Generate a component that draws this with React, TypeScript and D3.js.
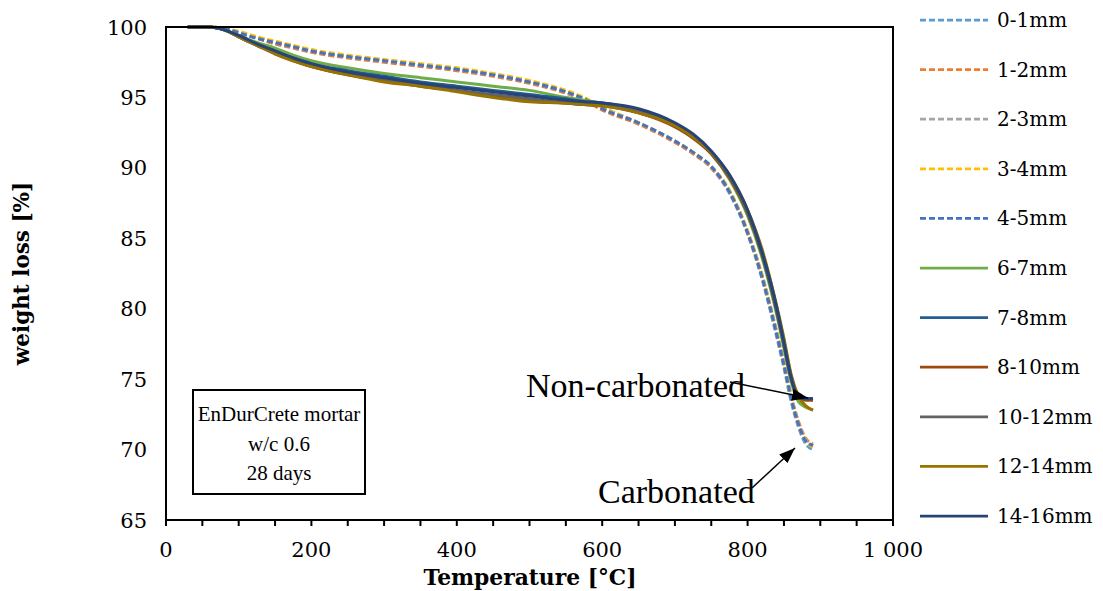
import React from "react";
import * as d3 from "d3";

// Thermogravimetric curves of EnDurCrete mortar (w/c 0.6, 28 days), sampled per depth slice.
const temperature = [30, 60, 80, 100, 125, 150, 175, 200, 250, 300, 350, 400, 450, 500, 550, 575, 600, 650, 700, 725, 750, 775, 800, 820, 840, 850, 860, 870, 880, 890];

// Carbonated layers (dashed)
const d0_1 = [100, 100, 99.9, 99.6, 99.2, 98.9, 98.6, 98.3, 97.9, 97.6, 97.3, 97.0, 96.6, 96.1, 95.4, 94.9, 94.2, 93.2, 91.9, 91.1, 90.0, 88.2, 85.3, 82.1, 78.0, 75.8, 73.4, 71.6, 70.4, 70.0];
const d1_2 = [100, 100, 99.9, 99.6, 99.2, 98.8, 98.5, 98.2, 97.8, 97.5, 97.2, 96.9, 96.5, 96.0, 95.3, 94.8, 94.1, 93.1, 91.8, 91.0, 90.0, 88.3, 85.4, 82.3, 78.3, 76.1, 73.8, 72.0, 70.8, 70.4];
const d2_3 = [100, 100, 99.9, 99.6, 99.3, 98.9, 98.6, 98.3, 97.9, 97.6, 97.3, 97.0, 96.6, 96.1, 95.4, 94.9, 94.3, 93.2, 91.9, 91.1, 90.1, 88.4, 85.5, 82.4, 78.4, 76.2, 73.8, 71.9, 70.7, 70.3];
const d3_4 = [100, 100, 99.9, 99.7, 99.3, 99.0, 98.7, 98.4, 98.0, 97.7, 97.4, 97.1, 96.7, 96.2, 95.5, 95.0, 94.3, 93.2, 91.9, 91.1, 90.1, 88.4, 85.5, 82.3, 78.3, 76.0, 73.6, 71.8, 70.6, 70.2];
const d4_5 = [100, 100, 99.9, 99.6, 99.2, 98.9, 98.6, 98.3, 97.9, 97.6, 97.3, 97.0, 96.6, 96.1, 95.4, 94.9, 94.2, 93.2, 91.9, 91.1, 90.1, 88.3, 85.4, 82.2, 78.2, 76.0, 73.6, 71.8, 70.6, 70.3];

// Non-carbonated layers (solid)
const d6_7 = [100, 100, 99.8, 99.4, 98.9, 98.5, 98.0, 97.6, 97.1, 96.7, 96.4, 96.1, 95.8, 95.5, 95.0, 94.8, 94.6, 94.0, 93.0, 92.2, 91.0, 89.2, 86.6, 83.6, 79.6, 77.2, 74.8, 73.4, 73.0, 72.8];
const d7_8 = [100, 100, 99.8, 99.4, 98.8, 98.3, 97.8, 97.4, 96.9, 96.5, 96.1, 95.8, 95.5, 95.2, 94.9, 94.7, 94.6, 94.1, 93.1, 92.3, 91.1, 89.4, 86.8, 83.8, 79.8, 77.4, 75.0, 73.7, 73.6, 73.6];
const d8_10 = [100, 100, 99.8, 99.3, 98.7, 98.1, 97.6, 97.2, 96.6, 96.2, 95.8, 95.5, 95.1, 94.8, 94.6, 94.5, 94.4, 93.9, 92.9, 92.1, 91.0, 89.3, 86.8, 83.9, 80.0, 77.6, 75.1, 73.7, 73.5, 73.5];
const d10_12 = [100, 100, 99.8, 99.3, 98.7, 98.2, 97.7, 97.3, 96.7, 96.3, 95.9, 95.5, 95.2, 94.9, 94.6, 94.5, 94.5, 94.0, 93.0, 92.2, 91.1, 89.4, 86.9, 84.0, 80.1, 77.7, 75.2, 73.8, 73.6, 73.6];
const d12_14 = [100, 100, 99.8, 99.3, 98.7, 98.1, 97.6, 97.2, 96.6, 96.1, 95.8, 95.4, 95.0, 94.7, 94.6, 94.5, 94.4, 93.9, 93.0, 92.2, 91.1, 89.5, 87.0, 84.2, 80.2, 77.9, 75.3, 73.8, 73.1, 72.8];
const d14_16 = [100, 100, 99.8, 99.4, 98.8, 98.3, 97.8, 97.4, 96.8, 96.4, 96.0, 95.7, 95.4, 95.1, 94.8, 94.7, 94.6, 94.2, 93.2, 92.4, 91.2, 89.5, 87.0, 84.0, 80.1, 77.6, 75.1, 73.7, 73.6, 73.6];

const seriesNames = ["0-1mm", "1-2mm", "2-3mm", "3-4mm", "4-5mm", "6-7mm", "7-8mm", "8-10mm", "10-12mm", "12-14mm", "14-16mm"];
const seriesValues = [d0_1, d1_2, d2_3, d3_4, d4_5, d6_7, d7_8, d8_10, d10_12, d12_14, d14_16];
const seriesColors = ["#5B9BD5", "#ED7D31", "#A5A5A5", "#FFC000", "#4472C4", "#70AD47", "#255E91", "#9E480E", "#636363", "#997300", "#264478"];
const seriesDashed = [true, true, true, true, true, false, false, false, false, false, false];

const xTicks = [0, 200, 400, 600, 800, 1000];
const xTickLabels = ["0", "200", "400", "600", "800", "1 000"];
const yTicks = [65, 70, 75, 80, 85, 90, 95, 100];

const noteLines = ["EnDurCrete mortar", "w/c 0.6", "28 days"];

const FONT = "'DejaVu Serif', serif";
const NARROW_FONT = "'Liberation Serif', serif";

export default function App() {
  const W = 1103;
  const H = 591;
  const plot = { left: 166, right: 893, top: 27, bottom: 520 };

  const x = d3.scaleLinear().domain([0, 1000]).range([plot.left, plot.right]);
  const y = d3.scaleLinear().domain([65, 100]).range([plot.bottom, plot.top]);

  const line = d3
    .line<number>()
    .x((_, i) => x(temperature[i]))
    .y((v) => y(v))
    .curve(d3.curveMonotoneX);

  const minorTicks = d3.range(0, 1001, 50);

  const legendX1 = 920;
  const legendX2 = 988;
  const legendTop = 20;
  const legendStep = 49.6;

  return (
    <svg
      width={W}
      height={H}
      style={{ position: "absolute", left: 0, top: 0, background: "#fff" }}
      fontFamily={FONT}
    >
      <defs>
        <marker
          id="arrowHead"
          viewBox="0 0 16 12"
          refX="16"
          refY="6"
          markerWidth="16"
          markerHeight="12"
          markerUnits="userSpaceOnUse"
          orient="auto"
        >
          <path d="M0,0 L16,6 L0,12 Z" fill="#000" />
        </marker>
      </defs>

      {/* series */}
      <g fill="none">
        {seriesValues.map((vals, i) => (
          <path
            key={seriesNames[i]}
            d={line(vals) ?? ""}
            stroke={seriesColors[i]}
            strokeWidth={3}
            strokeDasharray={seriesDashed[i] ? "6,3" : undefined}
            strokeLinejoin="round"
          />
        ))}
      </g>

      {/* plot frame */}
      <rect
        x={plot.left}
        y={plot.top}
        width={plot.right - plot.left}
        height={plot.bottom - plot.top}
        fill="none"
        stroke="#000"
        strokeWidth={2}
      />

      {/* x ticks */}
      <g stroke="#000" strokeWidth={2}>
        {minorTicks.map((t) => (
          <line key={t} x1={x(t)} x2={x(t)} y1={plot.bottom} y2={plot.bottom + 6} />
        ))}
      </g>
      <g fontSize={21} textAnchor="middle" fill="#000">
        {xTicks.map((t, i) => (
          <text key={t} x={x(t)} y={557}>
            {xTickLabels[i]}
          </text>
        ))}
      </g>

      {/* y tick labels */}
      <g fontSize={21} textAnchor="end" fill="#000">
        {yTicks.map((t) => (
          <text key={t} x={147} y={y(t) + 7.5}>
            {t}
          </text>
        ))}
      </g>

      {/* axis titles */}
      <text x={530} y={585} textAnchor="middle" fontSize={21.8} fontWeight="bold">
        Temperature [°C]
      </text>
      <text
        transform={`translate(29, ${(plot.top + plot.bottom) / 2}) rotate(-90)`}
        textAnchor="middle"
        fontSize={21.5}
        fontWeight="bold"
      >
        weight loss [%]
      </text>

      {/* note box */}
      <rect x={193} y={390} width={172} height={104} fill="#fff" stroke="#000" strokeWidth={2} />
      <g fontSize={21} textAnchor="middle" fill="#000" fontFamily={NARROW_FONT}>
        {noteLines.map((s, i) => (
          <text key={s} x={279} y={421 + i * 29.5}>
            {s}
          </text>
        ))}
      </g>

      {/* annotations */}
      <g fontFamily={NARROW_FONT} fontSize={34} fill="#000">
        <text x={526} y={397}>
          Non-carbonated
        </text>
        <text x={598} y={503}>
          Carbonated
        </text>
      </g>
      <line x1={730} y1={382} x2={808} y2={398} stroke="#000" strokeWidth={1.5} markerEnd="url(#arrowHead)" />
      <line x1={752} y1={488} x2={795} y2={448} stroke="#000" strokeWidth={1.5} markerEnd="url(#arrowHead)" />

      {/* legend */}
      {seriesNames.map((name, i) => {
        const ly = legendTop + i * legendStep;
        return (
          <g key={name}>
            <line
              x1={legendX1}
              x2={legendX2}
              y1={ly}
              y2={ly}
              stroke={seriesColors[i]}
              strokeWidth={2.75}
              strokeDasharray={seriesDashed[i] ? "6,3" : undefined}
            />
            <text x={997} y={ly + 7} fontSize={20} fill="#000">
              {name}
            </text>
          </g>
        );
      })}
    </svg>
  );
}
